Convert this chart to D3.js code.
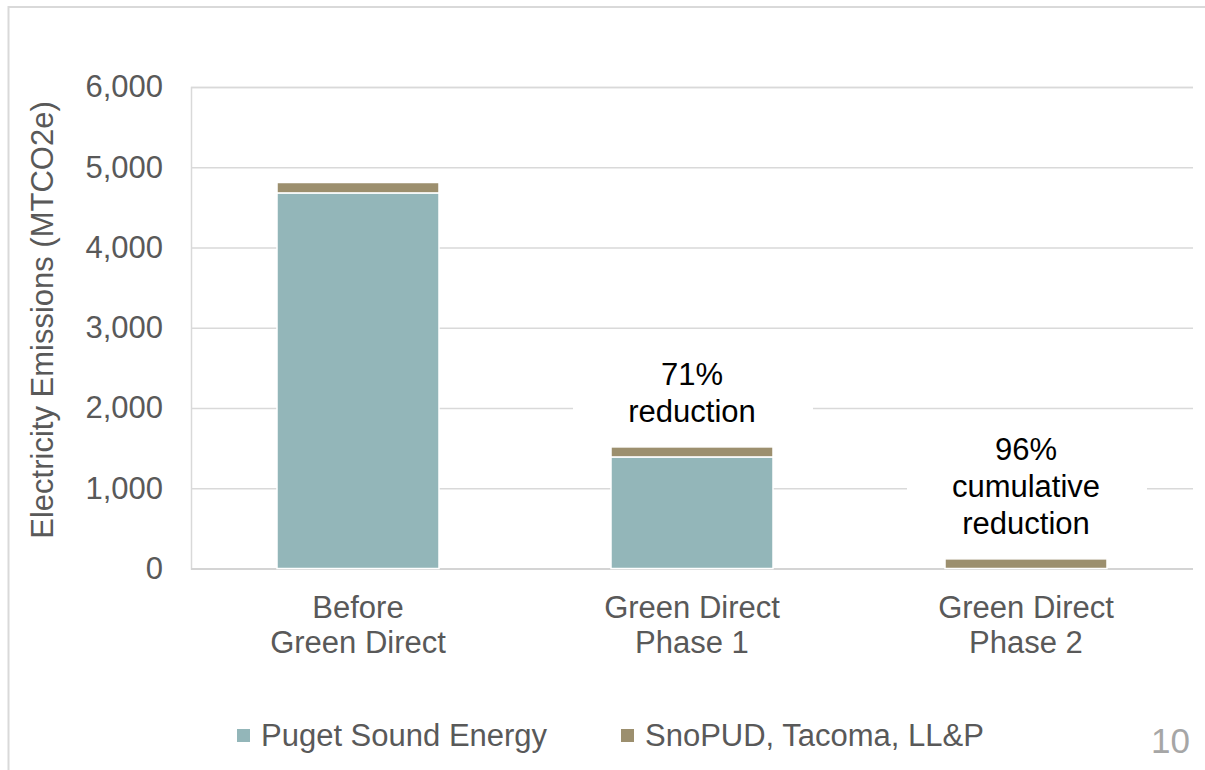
<!DOCTYPE html>
<html>
<head>
<meta charset="utf-8">
<script src="https://cdn.jsdelivr.net/npm/d3@7"></script>
<style>
  html, body { margin: 0; padding: 0; background: #fff; }
  svg { display: block; font-family: "Liberation Sans", Arial, sans-serif; }
</style>
</head>
<body>
<svg id="chart" width="1205" height="770"></svg>
<script>
// ---- data ----
const categories = [["Before", "Green Direct"], ["Green Direct", "Phase 1"], ["Green Direct", "Phase 2"]];
const categoryKeys = ["Before Green Direct", "Green Direct Phase 1", "Green Direct Phase 2"];
const seriesNames = ["Puget Sound Energy", "SnoPUD, Tacoma, LL&P"];
const pugetSound = [4680, 1390, 0];
const snoPUD = [130, 125, 120];
const yTicks = [0, 1000, 2000, 3000, 4000, 5000, 6000];
const annotations = [null, ["71%", "reduction"], ["96%", "cumulative", "reduction"]];
const colors = ["#93b6b9", "#9c8f6e"];

// ---- layout ----
const FS = 31;
const svg = d3.select("#chart");
const plot = { left: 191, right: 1193, top: 87, bottom: 568.5 };

// frame
svg.append("path")
  .attr("d", "M8.5,770 L8.5,7 L1205,7")
  .attr("fill", "none").attr("stroke", "#d9d9d9").attr("stroke-width", 2);

const x = d3.scaleBand().domain(categoryKeys)
  .range([plot.left, plot.right]).paddingInner(0.515).paddingOuter(0.2575);
const y = d3.scaleLinear().domain([0, 6000]).range([plot.bottom, plot.top]);

// gridlines
const yAxis = d3.axisLeft(y).tickValues(yTicks).tickSize(-(plot.right - plot.left))
  .tickPadding(28).tickFormat(d3.format(","));
const gy = svg.append("g").attr("transform", `translate(${plot.left},0)`).call(yAxis);
gy.select(".domain").attr("stroke", "#d9d9d9").attr("stroke-width", 1.5);
gy.selectAll(".tick line").attr("stroke", d => d === 0 ? "#d4d4d4" : "#d9d9d9")
  .attr("stroke-width", d => d === 0 ? 2 : 1.5);
gy.selectAll(".tick text").attr("fill", "#595959").attr("font-size", FS)
  .attr("font-family", "Liberation Sans, Arial, sans-serif");

// stacked bars
const rows = categoryKeys.map((k, i) => ({ key: k, ps: pugetSound[i], sno: snoPUD[i] }));
const stack = d3.stack().keys(["ps", "sno"])(rows);
svg.append("g").selectAll("g").data(stack).join("g")
  .attr("fill", (d, i) => colors[i])
  .selectAll("rect").data(d => d.filter(s => s[1] - s[0] > 0)).join("rect")
  .attr("x", d => x(d.data.key))
  .attr("width", x.bandwidth())
  .attr("y", d => y(d[1]))
  .attr("height", d => y(d[0]) - y(d[1]))
  .attr("stroke", "#fff").attr("stroke-width", 1.5);

// category labels
const cat = svg.append("g");
categories.forEach((lines, i) => {
  const t = cat.append("text").attr("text-anchor", "middle")
    .attr("fill", "#595959").attr("font-size", FS)
    .attr("x", x(categoryKeys[i]) + x.bandwidth() / 2).attr("y", 618);
  lines.forEach((l, j) => t.append("tspan")
    .attr("x", x(categoryKeys[i]) + x.bandwidth() / 2)
    .attr("dy", j === 0 ? 0 : 35).text(l));
});

// annotations
annotations.forEach((lines, i) => {
  if (!lines) return;
  const cx = x(categoryKeys[i]) + x.bandwidth() / 2;
  const total = pugetSound[i] + snoPUD[i];
  const lastBase = y(total) - 25;
  const lh = 37;
  const firstBase = lastBase - lh * (lines.length - 1);
  const g = svg.append("g");
  g.append("rect").attr("x", cx - 119).attr("width", 240)
    .attr("y", firstBase - 34).attr("height", lastBase - firstBase + 46)
    .attr("fill", "#fff");
  const t = g.append("text").attr("text-anchor", "middle").attr("fill", "#000")
    .attr("font-size", FS);
  lines.forEach((l, j) => t.append("tspan").attr("x", cx)
    .attr("y", firstBase + j * lh).text(l));
});

// y axis title
svg.append("text")
  .attr("transform", "translate(53,320) rotate(-90)")
  .attr("text-anchor", "middle").attr("fill", "#595959").attr("font-size", FS)
  .text("Electricity Emissions (MTCO2e)");

// legend
const legendX = [237, 621];
const leg = svg.append("g");
seriesNames.forEach((n, i) => {
  leg.append("rect").attr("x", legendX[i]).attr("y", 729).attr("width", 13).attr("height", 13)
    .attr("fill", colors[i]);
  leg.append("text").attr("x", legendX[i] + 24).attr("y", 746)
    .attr("fill", "#595959").attr("font-size", FS).text(n);
});

// page number
svg.append("text").attr("x", 1190).attr("y", 753).attr("text-anchor", "end")
  .attr("fill", "#a6a6a6").attr("font-size", 35).text("10");
</script>
</body>
</html>
